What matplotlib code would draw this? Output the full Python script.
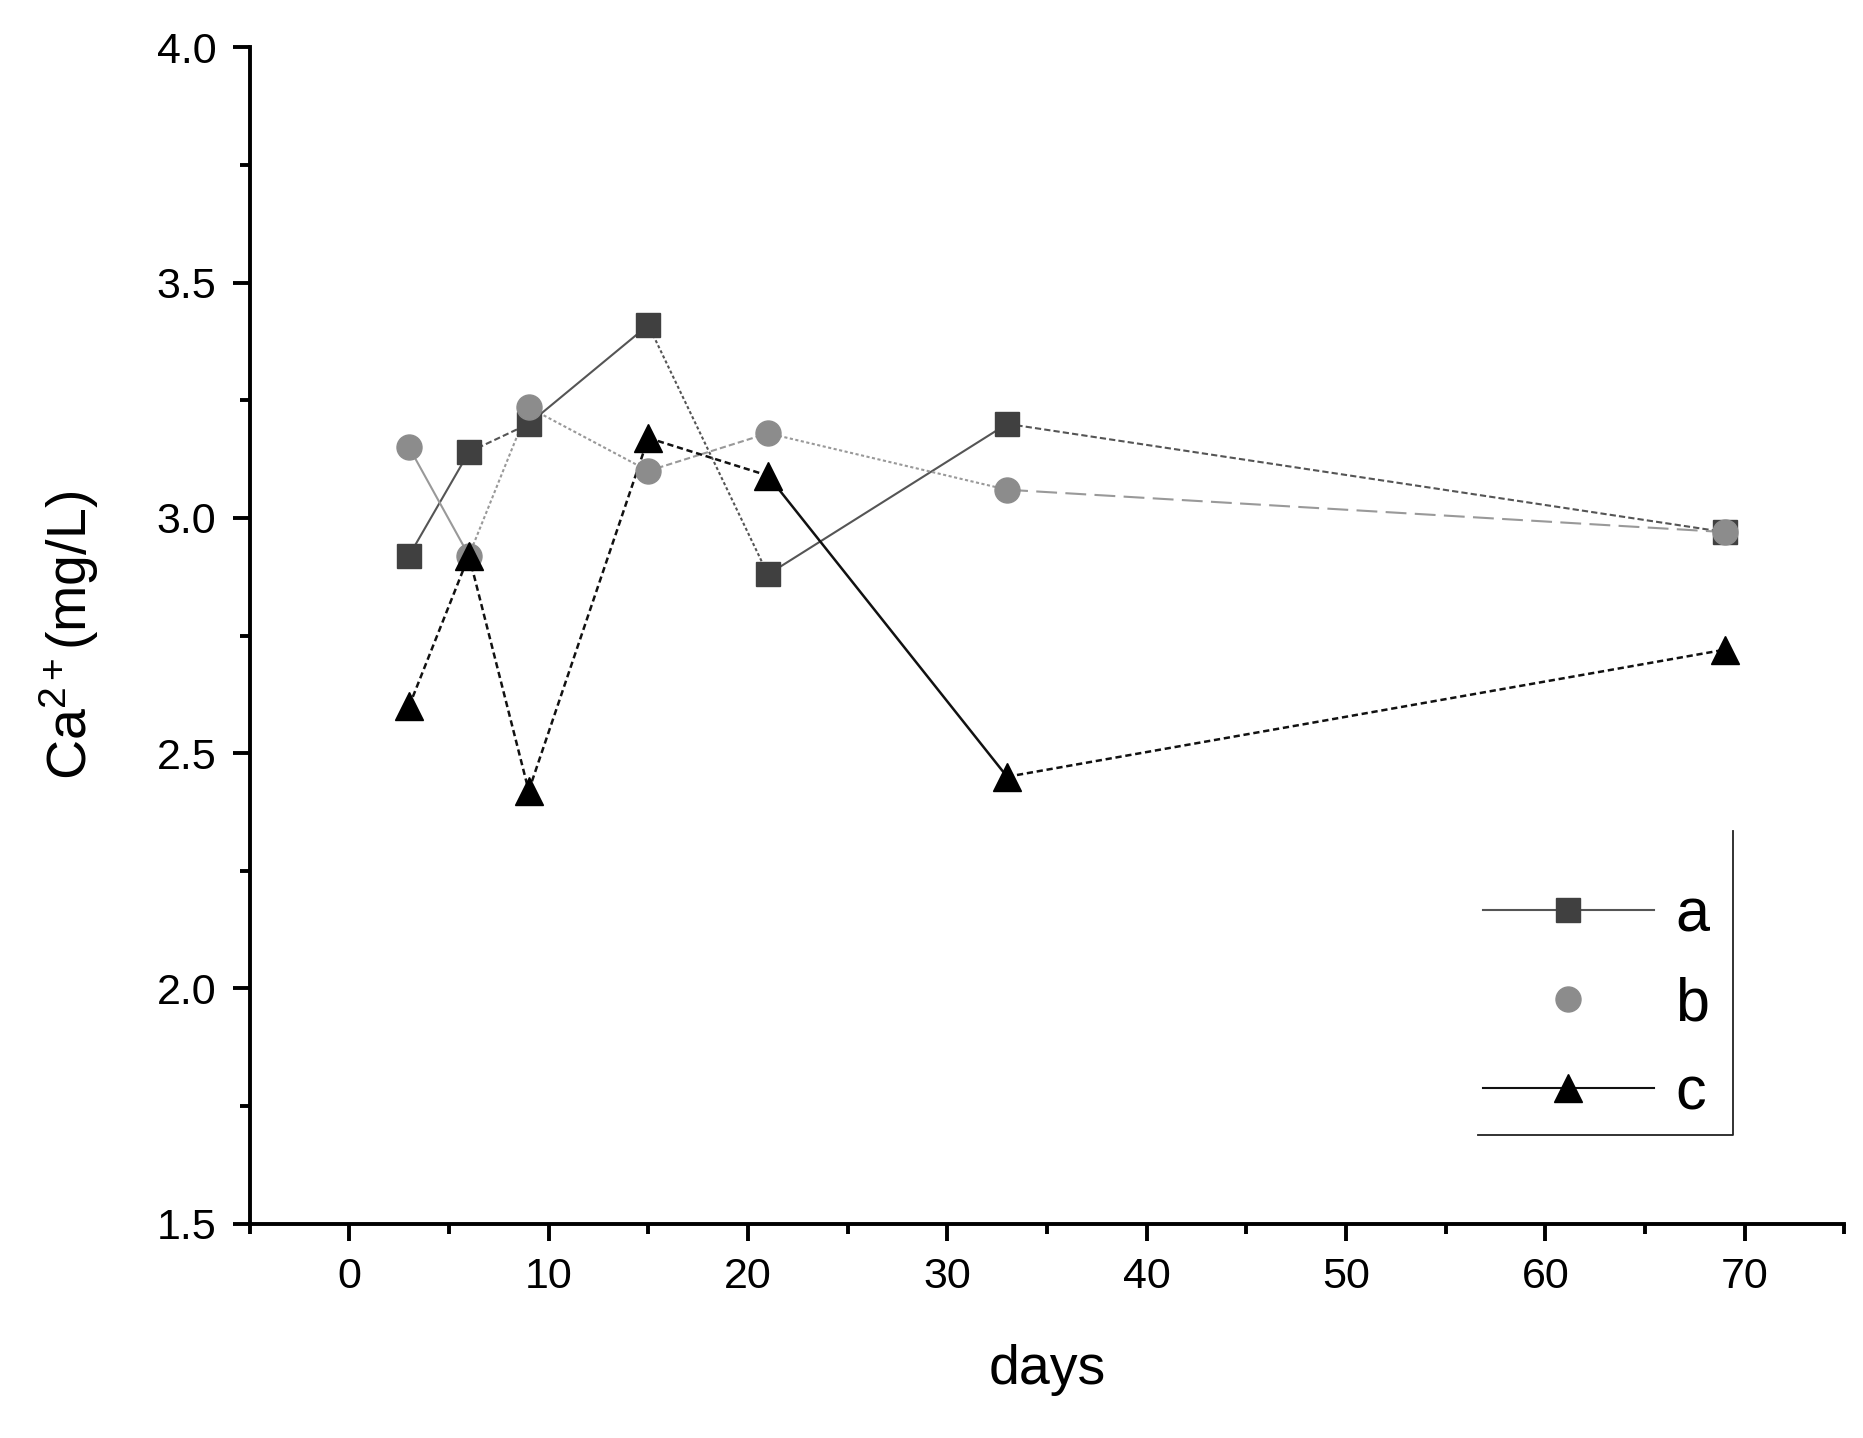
import matplotlib.pyplot as plt
from matplotlib.lines import Line2D

plt.rcParams['font.family'] = ['Liberation Sans', 'DejaVu Sans']
plt.rcParams['mathtext.fontset'] = 'custom'
plt.rcParams['mathtext.rm'] = 'Liberation Sans'
plt.rcParams['mathtext.it'] = 'Liberation Sans'

# data
days = [3, 6, 9, 15, 21, 33, 69]
ca_a = [2.92, 3.14, 3.20, 3.41, 2.88, 3.20, 2.97]
ca_b = [3.15, 2.92, 3.235, 3.10, 3.18, 3.06, 2.97]
ca_c = [2.60, 2.92, 2.42, 3.17, 3.09, 2.45, 2.72]
labels = ['a', 'b', 'c']

# each segment of the original has its own dash pattern
seg_styles = {
    'a': ['-', (0, (3, 1.5)), '-', (0, (1.5, 1.2)), '-', (0, (3, 1.5))],
    'b': ['-', (0, (1.5, 1.2)), (0, (1.5, 1.2)), (0, (3, 1.5)), (0, (1.5, 1.2)), (0, (10, 4))],
    'c': [(0, (2.5, 1.5)), (0, (2.5, 1.5)), (0, (2.5, 1.5)), (0, (2.5, 1.5)), '-', (0, (2.5, 1.5))],
}
line_colors = {'a': '#555555', 'b': '#999999', 'c': '#111111'}
line_widths = {'a': 1.5, 'b': 1.5, 'c': 1.8}
markers = {'a': 's', 'b': 'o', 'c': '^'}
marker_colors = {'a': '#404040', 'b': '#8c8c8c', 'c': '#000000'}
marker_sizes = {'a': 17, 'b': 18, 'c': 20}

fig = plt.figure(figsize=(18.63, 14.38), dpi=100)
ax = fig.add_axes([0.134, 0.149, 0.856, 0.818])

series = {'a': ca_a, 'b': ca_b, 'c': ca_c}
for name in labels:
    vals = series[name]
    for i in range(len(days) - 1):
        ax.plot(days[i:i + 2], vals[i:i + 2], linestyle=seg_styles[name][i],
                color=line_colors[name], lw=line_widths[name], zorder=2)
for name in labels:
    ax.plot(days, series[name], linestyle='none', marker=markers[name],
            ms=marker_sizes[name], color=marker_colors[name], zorder=3)

ax.set_xlim(-5, 75)
ax.set_ylim(1.5, 4.0)
ax.set_xticks([0, 10, 20, 30, 40, 50, 60, 70])
ax.set_xticks([-5, 5, 15, 25, 35, 45, 55, 65, 75], minor=True)
ax.set_yticks([1.5, 2.0, 2.5, 3.0, 3.5, 4.0])
ax.set_yticks([1.75, 2.25, 2.75, 3.25, 3.75], minor=True)
ax.set_yticklabels(['1.5', '2.0', '2.5', '3.0', '3.5', '4.0'])

ax.spines['top'].set_visible(False)
ax.spines['right'].set_visible(False)
for s in ['left', 'bottom']:
    ax.spines[s].set_linewidth(2.8)
ax.tick_params(which='major', direction='out', length=12, width=2.8, labelsize=31, pad=12)
ax.tick_params(which='minor', direction='out', length=7, width=2.8)

ax.set_xlabel('days', fontsize=40, labelpad=34)
ax.set_ylabel('Ca$^{2+}$(mg/L)', fontsize=40, labelpad=40)

handles = [
    Line2D([], [], color='#555555', lw=1.5, marker='s', ms=17, markerfacecolor='#404040', markeredgecolor='#404040'),
    Line2D([], [], linestyle='none', marker='o', ms=18, color='#8c8c8c'),
    Line2D([], [], color='#111111', lw=1.5, marker='^', ms=20, markerfacecolor='#000000', markeredgecolor='#000000'),
]
ax.legend(handles, labels, loc='lower right', bbox_to_anchor=(0.942, 0.05),
          frameon=False, fontsize=44, handlelength=2.8, labelspacing=0.52,
          handletextpad=0.35, borderpad=0.2)

# open legend box: right and bottom edges only
ax.plot([0.77, 0.93, 0.93], [0.0757, 0.0757, 0.334], transform=ax.transAxes,
        color='#222222', lw=1.3, clip_on=False)

fig.savefig('out.png', dpi=100)
